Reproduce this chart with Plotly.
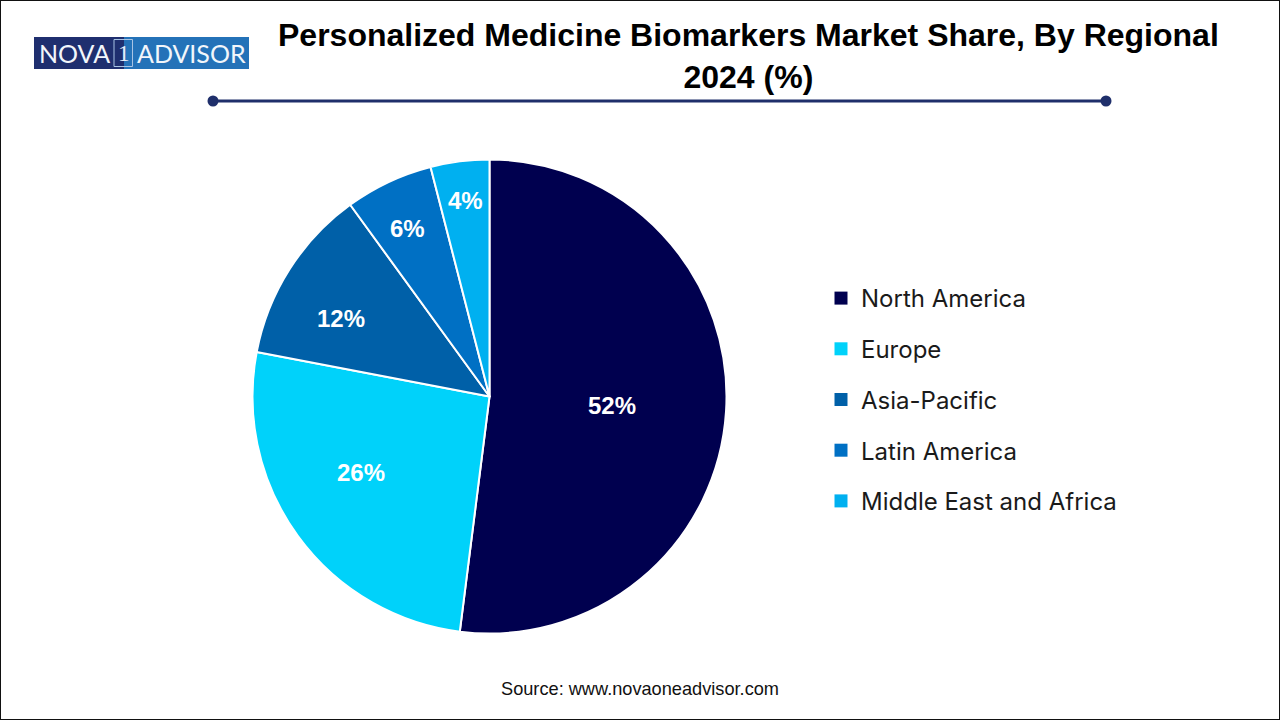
import plotly.graph_objects as go

regions = ["North America", "Europe", "Asia-Pacific", "Latin America", "Middle East and Africa"]
shares = [52, 26, 12, 6, 4]
colors = ["#00004F", "#00D2FA", "#0060A8", "#0070C4", "#00B0F0"]

W = 1280
H = 720

# pixel helpers, measured from the top left of the picture
def px(x):
    return x / W

def py(y):
    return 1 - y / H

# where the percent labels sit on the slices
label_x = [612, 361, 341, 407, 465]
label_y = [405, 472, 318, 228, 200]

def add_text(fig, text, x, y, family, size, color):
    fig.add_annotation(text=text, xref="paper", yref="paper", x=px(x), y=py(y),
                       xanchor="center", yanchor="middle", showarrow=False,
                       font=dict(family=family, size=size, color=color))

fig = go.Figure(go.Pie(
    labels=regions,
    values=shares,
    marker=dict(colors=colors, line=dict(color="white", width=2)),
    sort=False,
    direction="clockwise",
    rotation=0,
    textinfo="none",
    domain=dict(x=[px(252.5), px(726.5)], y=[py(633.5), py(159.5)]),
    showlegend=False,
    hoverinfo="label+percent",
))

# legend entries, one group each so the gap can be set
for name, color in zip(regions, colors):
    fig.add_trace(go.Scatter(
        x=[None], y=[None], mode="markers", name=name, legendgroup=name,
        marker=dict(symbol="square", size=13, color=color),
    ))

for share, x, y in zip(shares, label_x, label_y):
    add_text(fig, f"<b>{share}%</b>", x, y, "Liberation Sans", 24, "white")

# title rule with round ends
fig.add_shape(type="line", xref="paper", yref="paper", x0=px(213), x1=px(1106),
              y0=py(101), y1=py(101), line=dict(color="#1F2F6B", width=3))
for cx in [213, 1106]:
    fig.add_shape(type="circle", xref="paper", yref="paper",
                  x0=px(cx - 5.5), x1=px(cx + 5.5), y0=py(106.5), y1=py(95.5),
                  fillcolor="#1F2F6B", line=dict(width=0))

# outer border
fig.add_shape(type="rect", xref="paper", yref="paper", x0=0, x1=1, y0=0, y1=1,
              line=dict(color="#111111", width=2))

# logo
fig.add_shape(type="rect", xref="paper", yref="paper", x0=px(34), x1=px(124),
              y0=py(69), y1=py(37), fillcolor="#1F2F6F", line=dict(width=0), layer="below")
fig.add_shape(type="rect", xref="paper", yref="paper", x0=px(124), x1=px(249),
              y0=py(69), y1=py(37), fillcolor="#2472B8", line=dict(width=0), layer="below")
fig.add_shape(type="rect", xref="paper", yref="paper", x0=px(114), x1=px(132.5),
              y0=py(66.5), y1=py(39.5), line=dict(color="#A9C4E4", width=1), layer="below")
add_text(fig, "NOVA", 74, 53.5, "Lato", 25, "#F2F6FB")
add_text(fig, "1", 123.5, 53.5, "Liberation Serif", 23, "#E6EEF8")
add_text(fig, "ADVISOR", 191, 53.5, "Lato", 25, "#F2F6FB")

add_text(fig, "<b>Personalized Medicine Biomarkers Market Share, By Regional<br>2024 (%)</b>",
         748, 56, "Liberation Sans", 32, "black")
add_text(fig, "Source: www.novaoneadvisor.com", 640, 689, "Liberation Sans", 18.2, "#111111")

fig.update_layout(
    width=W, height=H,
    margin=dict(l=0, r=0, t=0, b=0),
    paper_bgcolor="white",
    plot_bgcolor="white",
    xaxis=dict(visible=False),
    yaxis=dict(visible=False),
    showlegend=True,
    legend=dict(x=px(821), y=py(276), xanchor="left", yanchor="top",
                font=dict(family="Inter", size=24, color="#1A1A1A"),
                itemwidth=30, tracegroupgap=16.5, bgcolor="rgba(0,0,0,0)"),
)

# the page has a default body margin, drop it so the figure fills the window
fig.write_html("out.html", config=dict(displayModeBar=False),
               post_script="document.body.style.margin='0';")
